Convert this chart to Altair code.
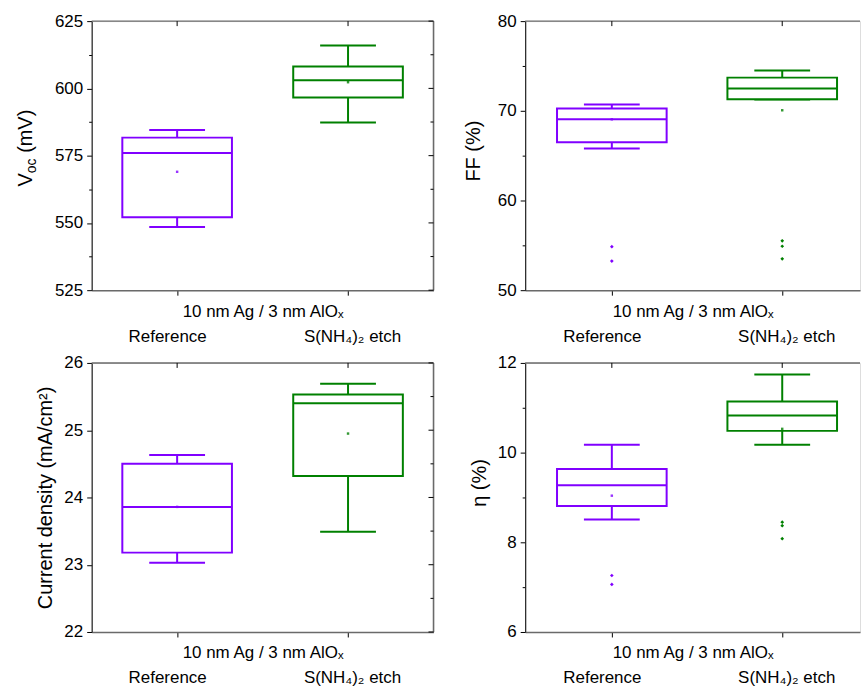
import altair as alt
import pandas as pd

FONT = "Liberation Sans"

groups = ["Reference", "S(NH₄)₂ etch"]
colors = ["#8000ff", "#008000"]
mean_colors = ["#d2b4ff", "#a8dca8"]
x_title = "10 nm Ag / 3 nm AlOₓ"

# Voc (mV)
voc_lo = [548.5, 587.3]
voc_q1 = [552.1, 596.6]
voc_med = [576.0, 603.0]
voc_q3 = [581.7, 608.1]
voc_hi = [584.5, 615.9]
voc_mean = [569.0, 602.3]
voc_out_group = []
voc_out_value = []
voc_major = [525, 550, 575, 600, 625]
voc_minor = [537.5, 562.5, 587.5, 612.5]

# FF (%)
ff_lo = [65.8, 71.25]
ff_q1 = [66.5, 71.3]
ff_med = [69.05, 72.5]
ff_q3 = [70.25, 73.7]
ff_hi = [70.7, 74.5]
ff_mean = [69.05, 70.06]
ff_out_group = ["Reference", "Reference", "S(NH₄)₂ etch", "S(NH₄)₂ etch", "S(NH₄)₂ etch"]
ff_out_value = [54.85, 53.25, 55.5, 54.9, 53.5]
ff_major = [50, 60, 70, 80]
ff_minor = [55, 65, 75]

# Current density (mA/cm2)
j_lo = [23.03, 23.49]
j_q1 = [23.18, 24.32]
j_med = [23.86, 25.40]
j_q3 = [24.50, 25.53]
j_hi = [24.63, 25.69]
j_mean = [23.86, 24.95]
j_out_group = []
j_out_value = []
j_major = [22, 23, 24, 25, 26]
j_minor = [22.5, 23.5, 24.5, 25.5]

# Efficiency eta (%)
eta_lo = [8.51, 10.175]
eta_q1 = [8.81, 10.485]
eta_med = [9.27, 10.83]
eta_q3 = [9.635, 11.14]
eta_hi = [10.175, 11.74]
eta_mean = [9.04, 10.53]
eta_out_group = ["Reference", "Reference", "S(NH₄)₂ etch", "S(NH₄)₂ etch", "S(NH₄)₂ etch"]
eta_out_value = [7.26, 7.06, 8.45, 8.37, 8.08]
eta_major = [6, 8, 10, 12]
eta_minor = [7, 9, 11]

voc_title_parts = ["V", "oc", "(mV)"]


def panel(lo, q1, med, q3, hi, mean, out_g, out_v, major, minor, ytitle,
          title_x, title_y, width, height, pad, align, right_frame, anchor=False,
          custom_title=False):
    box = pd.DataFrame({"group": groups, "lo": lo, "q1": q1, "med": med,
                        "q3": q3, "hi": hi, "mean": mean})
    outs = pd.DataFrame({"group": out_g, "value": out_v})
    ticks_major = pd.DataFrame({"v": major})
    ticks_minor = pd.DataFrame({"v": minor})
    one = pd.DataFrame({"a": [0]})

    xscale = alt.Scale(type="point", domain=groups, padding=pad, align=align)
    yscale = alt.Scale(domain=[min(major), max(major)], nice=False, zero=False)
    color = alt.Color("group:N", scale=alt.Scale(domain=groups, range=colors), legend=None)
    mcolor = alt.Color("group:N", scale=alt.Scale(domain=groups, range=mean_colors), legend=None)
    major_js = "[" + ",".join(str(v) for v in major) + "]"

    x_axis = alt.Axis(
        title=x_title, titleY=26, titleBaseline="alphabetic", titleFontSize=17,
        titleFontWeight="normal", titleFont=FONT, titleColor="black",
        labelAngle=0, labelFontSize=17, labelFont=FONT, labelColor="black",
        labelBaseline="alphabetic", labelPadding=46,
        labelOffset={"condition": {"test": "datum.value === 'Reference'", "value": -10}, "value": 4},
        tickSize=5, tickColor="black", tickWidth=1, domainColor="#6a6a6a", domainWidth=1.5,
    )
    yaxis_kw = dict(
        values=sorted(major + minor),
        format="d",
        labelExpr=f"indexof({major_js}, datum.value) >= 0 ? datum.label : ''",
        tickSize={"condition": {"test": f"indexof({major_js}, datum.value) >= 0", "value": 5}, "value": 3},
        tickColor="black", tickWidth=1, domainColor="#222222", domainWidth=1.2,
        labelFontSize=17, labelFont=FONT, labelColor="black", labelPadding=4,
        grid=False,
    )
    if custom_title:
        y_axis = alt.Axis(title=None, **yaxis_kw)
    else:
        y_axis = alt.Axis(title=ytitle, titleFontSize=20, titleFontWeight="normal",
                          titleFont=FONT, titleColor="black", titleX=title_x,
                          titleY=title_y, titleBaseline="alphabetic", titleAngle=270,
                          titleAlign="center", **yaxis_kw)

    def X():
        return alt.X("group:N", scale=xscale, axis=x_axis)

    def Y(f):
        return alt.Y(f, scale=yscale, axis=y_axis)

    whisk = alt.Chart(box).mark_rule(strokeWidth=2, opacity=1).encode(
        x=X(), y=Y("lo:Q"), y2="hi:Q", color=color)
    caps_lo = alt.Chart(box).mark_tick(size=56, thickness=2, opacity=1).encode(
        x=X(), y=Y("lo:Q"), color=color)
    caps_hi = alt.Chart(box).mark_tick(size=56, thickness=2, opacity=1).encode(
        x=X(), y=Y("hi:Q"), color=color)
    boxes = alt.Chart(box).mark_bar(size=110, fill="white", strokeWidth=2, opacity=1).encode(
        x=X(), y=Y("q1:Q"), y2="q3:Q", stroke=color)
    means = alt.Chart(box).mark_square(size=6, opacity=0.8).encode(
        x=X(), y=Y("mean:Q"), color=mcolor)
    meds = alt.Chart(box).mark_tick(size=110, thickness=2, opacity=1).encode(
        x=X(), y=Y("med:Q"), color=color)
    outl = alt.Chart(outs).mark_point(shape="diamond", filled=True, size=14, opacity=1).encode(
        x=X(), y=Y("value:Q"), color=color)

    top_line = alt.Chart(one).mark_rule(color="#6a6a6a", strokeWidth=1.5).encode(
        x=alt.value(0), x2=alt.value(width), y=alt.value(0))
    top_ticks = alt.Chart(box).mark_rule(color="black", strokeWidth=1).encode(
        x=X(), y=alt.value(0), y2=alt.value(5))

    layers = [whisk, caps_lo, caps_hi, boxes, means, meds, outl, top_line, top_ticks]

    if right_frame:
        right_line = alt.Chart(one).mark_rule(color="#6a6a6a", strokeWidth=1.5).encode(
            x=alt.value(width), y=alt.value(0), y2=alt.value(height))
        rt_major = alt.Chart(ticks_major).mark_rule(color="black", strokeWidth=1).encode(
            y=Y("v:Q"), x=alt.value(width - 5), x2=alt.value(width))
        rt_minor = alt.Chart(ticks_minor).mark_rule(color="black", strokeWidth=1).encode(
            y=Y("v:Q"), x=alt.value(width - 3), x2=alt.value(width))
        layers += [right_line, rt_major, rt_minor]

    if custom_title:
        t_big = pd.DataFrame({"t": [voc_title_parts[0]]})
        t_sub = pd.DataFrame({"t": [voc_title_parts[1]]})
        t_rest = pd.DataFrame({"t": [voc_title_parts[2]]})
        tkw = dict(angle=270, align="left", baseline="alphabetic", font=FONT, color="black")
        layers += [
            alt.Chart(t_big).mark_text(fontSize=20, **tkw).encode(
                text="t:N", x=alt.value(title_x), y=alt.value(title_y)),
            alt.Chart(t_sub).mark_text(fontSize=14, **tkw).encode(
                text="t:N", x=alt.value(title_x + 4), y=alt.value(title_y - 13.4)),
            alt.Chart(t_rest).mark_text(fontSize=20, **tkw).encode(
                text="t:N", x=alt.value(title_x), y=alt.value(title_y - 13.4 - 14.8 - 5.6)),
        ]

    if anchor:
        layers.append(alt.Chart(one).mark_rule(strokeOpacity=0, strokeWidth=0.1).encode(
            x=alt.value(-91), x2=alt.value(-90), y=alt.value(-19)))

    return alt.layer(*layers).properties(width=width, height=height)


p1 = panel(voc_lo, voc_q1, voc_med, voc_q3, voc_hi, voc_mean, voc_out_group, voc_out_value,
           voc_major, voc_minor, "", -60, 166, 343, 270, 0.5, 0.5, True,
           anchor=True, custom_title=True)
p2 = panel(ff_lo, ff_q1, ff_med, ff_q3, ff_hi, ff_mean, ff_out_group, ff_out_value,
           ff_major, ff_minor, "FF (%)", -46, 130, 336, 270, 0.4825, 0.527, False)
p3 = panel(j_lo, j_q1, j_med, j_q3, j_hi, j_mean, j_out_group, j_out_value,
           j_major, j_minor, "Current density (mA/cm²)", -40, 135, 343, 270, 0.5, 0.5, True)
p4 = panel(eta_lo, eta_q1, eta_med, eta_q3, eta_hi, eta_mean, eta_out_group, eta_out_value,
           eta_major, eta_minor, "η (%)", -40, 120, 336, 270, 0.4825, 0.527, False)

chart = alt.concat(p1, p2, p3, p4, columns=2, spacing={"row": 73, "column": 92},
                   bounds="flush").properties(padding=0).configure_view(stroke=None).configure(
    font=FONT, background="white")

chart.save("out.html", embed_options={"renderer": "svg", "actions": False})
